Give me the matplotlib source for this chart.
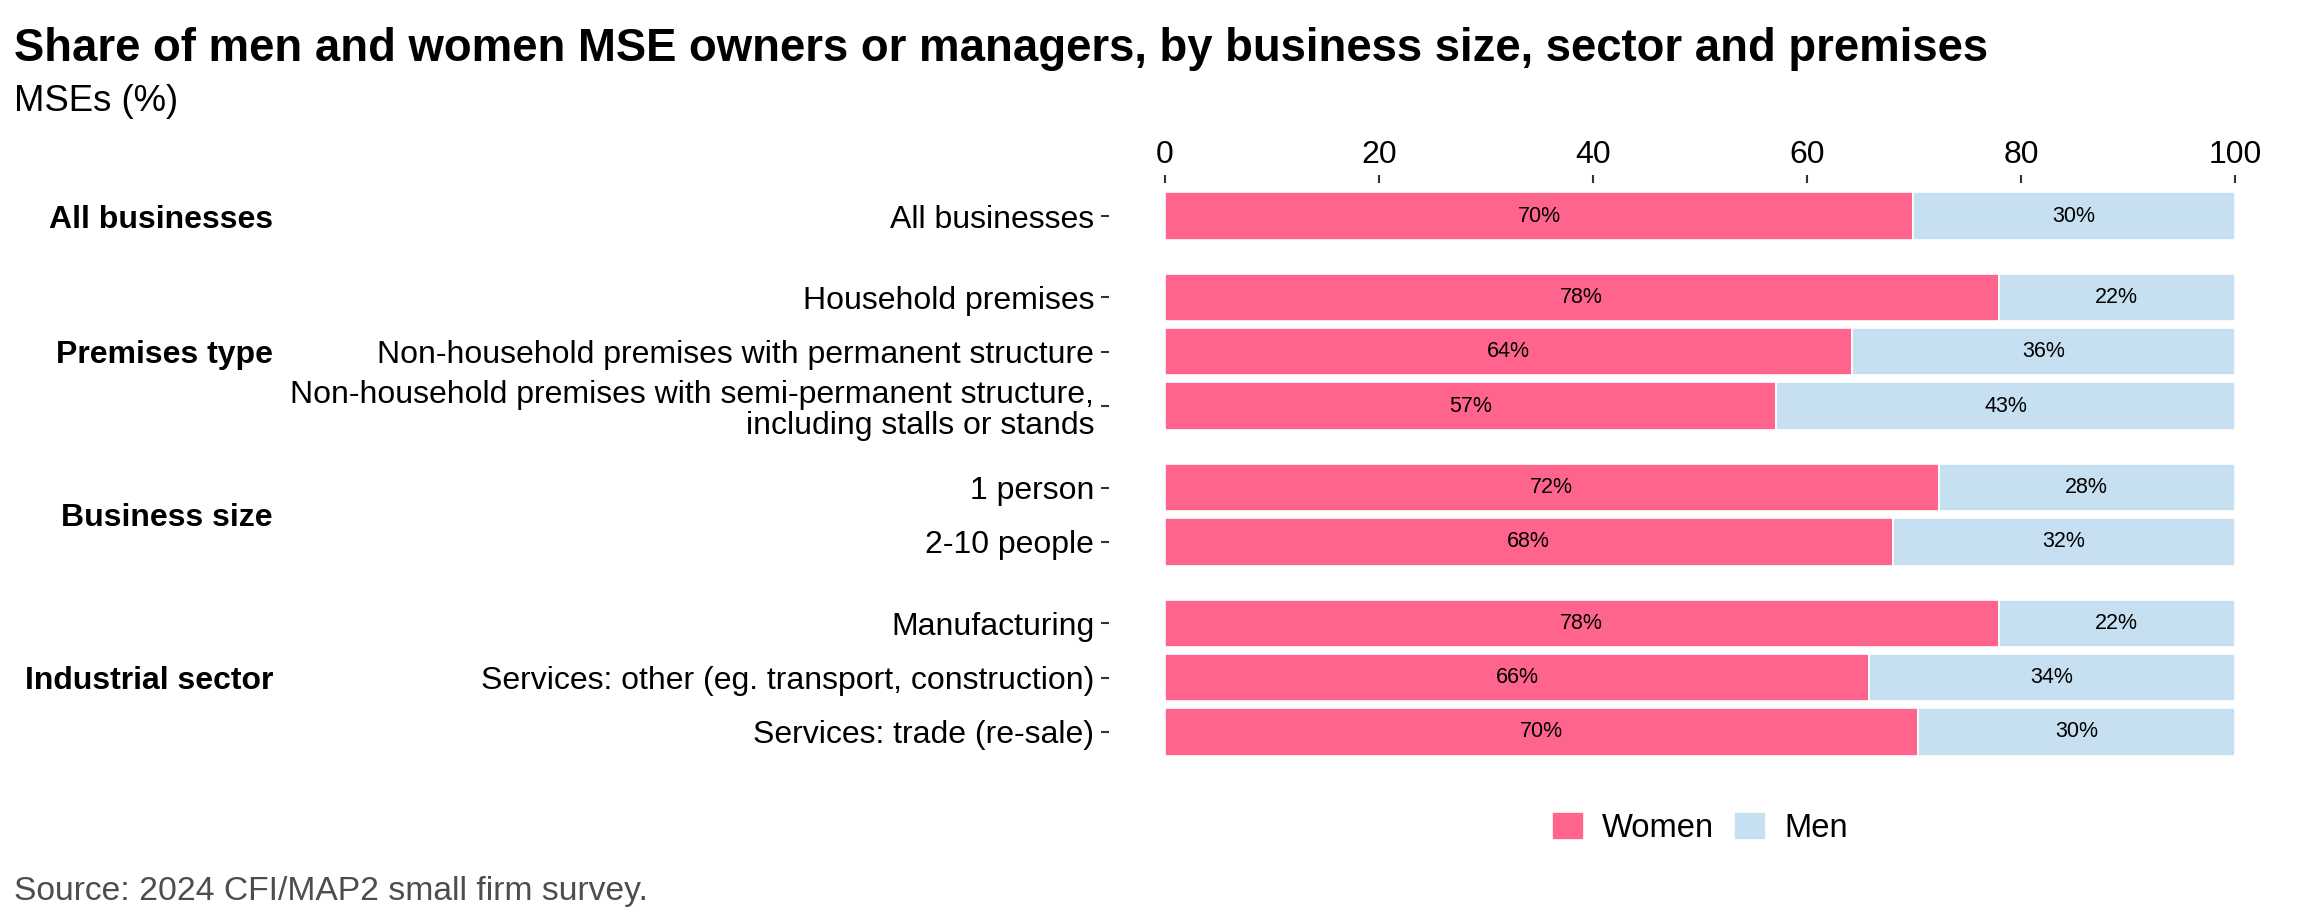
import matplotlib
matplotlib.use("Agg")
import matplotlib.pyplot as plt
import matplotlib.transforms as mtransforms

plt.rcParams['font.family'] = ['Liberation Sans', 'DejaVu Sans']

groups = ["All businesses", "Premises type", "Business size", "Industrial sector"]
categories = [
    ["All businesses"],
    ["Household premises",
     "Non-household premises with permanent structure",
     "Non-household premises with semi-permanent structure,\nincluding stalls or stands"],
    ["1 person", "2-10 people"],
    ["Manufacturing",
     "Services: other (eg. transport, construction)",
     "Services: trade (re-sale)"],
]
women = [[69.9], [77.9, 64.2, 57.1], [72.3, 68.0], [77.9, 65.8, 70.4]]
men = [[100 - v for v in g] for g in women]
women_labels = [["70%"], ["78%", "64%", "57%"], ["72%", "68%"], ["78%", "66%", "70%"]]
men_labels = [["30%"], ["22%", "36%", "43%"], ["28%", "32%"], ["22%", "34%", "30%"]]

PINK = "#FF648C"
BLUE = "#C6E0F1"
GAP = 0.5

W, H = 2304, 921
fig = plt.figure(figsize=(W / 100, H / 100), dpi=100)

ypos, labels, wv, mv, wl, ml, gcent = [], [], [], [], [], [], []
y = 0.0
for gi, g in enumerate(categories):
    start = y
    for ci, c in enumerate(g):
        ypos.append(y)
        labels.append(c)
        wv.append(women[gi][ci]); mv.append(men[gi][ci])
        wl.append(women_labels[gi][ci]); ml.append(men_labels[gi][ci])
        y += 1
    gcent.append((start + y - 1) / 2)
    y += GAP
ymax = ypos[-1]

top_px, bot_px = 216 - 0.6 * 54.3, 732 + 0.6 * 54.3
left_px, right_px = 1165, 2235
ax = fig.add_axes([left_px / W, 1 - bot_px / H, (right_px - left_px) / W, (bot_px - top_px) / H])

for s in ["top", "right", "bottom"]:
    ax.spines[s].set_visible(False)
ax.spines["left"].set_position(("outward", 40))
ax.spines["left"].set_visible(False)

bh = 0.87
bw = ax.barh(ypos, wv, height=bh, color=PINK, edgecolor="white", linewidth=1.2, label="Women")
bm = ax.barh(ypos, mv, left=wv, height=bh, color=BLUE, edgecolor="white", linewidth=1.2, label="Men")
for yy, a, b, la, lb in zip(ypos, wv, mv, wl, ml):
    ax.text(a / 2, yy, la, ha="center", va="center", fontsize=15.5, color="black")
    ax.text(a + b / 2, yy, lb, ha="center", va="center", fontsize=15.5, color="black")

ax.set_xlim(0, 100)
ax.set_ylim(ymax + 0.6, -0.6)
ax.set_xticks([0, 20, 40, 60, 80, 100])
ax.xaxis.tick_top()
ax.tick_params(axis="x", labelsize=23, length=6, width=1.5, color="#333333", pad=4)
ax.set_yticks(ypos)
ax.set_yticklabels(labels, fontsize=23, linespacing=1.05)
ax.tick_params(axis="y", length=6, width=1.5, color="#333333", pad=5)

blend = mtransforms.blended_transform_factory(mtransforms.IdentityTransform(), ax.transData)
for g, c in zip(groups, gcent):
    ax.text(273, c, g, transform=blend, fontsize=23, fontweight="bold",
            ha="right", va="center_baseline")

fig.text(14 / W, 1 - 61 / H, "Share of men and women MSE owners or managers, by business size, sector and premises",
         fontsize=32.8, fontweight="bold", ha="left", va="baseline")
fig.text(14 / W, 1 - 111 / H, "MSEs (%)", fontsize=26.3, ha="left", va="baseline")
fig.text(14 / W, 1 - 900 / H, "Source: 2024 CFI/MAP2 small firm survey.", fontsize=24.2,
         color="#4D4D4D", ha="left", va="baseline")

fig.legend(handles=[bw, bm], labels=["Women", "Men"], loc="center",
           bbox_to_anchor=((left_px + right_px) / 2 / W, 1 - 828 / H), ncol=2, frameon=False,
           fontsize=23.6, handlelength=0.975, handleheight=0.95, handletextpad=0.55,
           columnspacing=0.6, borderpad=0.2)

fig.savefig("out.png", dpi=100)
